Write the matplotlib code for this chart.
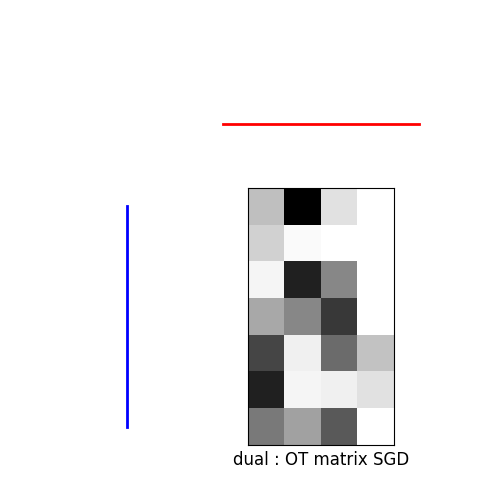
import numpy as np
import matplotlib
matplotlib.use("Agg")
import matplotlib.pyplot as plt

# source / target weights (uniform)
a = [1 / 7] * 7
b = [1 / 4] * 4

# coupling estimated by SGD (relative intensities)
G = np.array([
    [0.25, 1.00, 0.12, 0.00],
    [0.18, 0.02, 0.00, 0.00],
    [0.04, 0.87, 0.47, 0.00],
    [0.34, 0.47, 0.78, 0.00],
    [0.73, 0.06, 0.58, 0.24],
    [0.87, 0.04, 0.06, 0.12],
    [0.52, 0.37, 0.65, 0.00],
])
title = "dual : OT matrix SGD"

na, nb = G.shape
xa = np.arange(na)
xb = np.arange(nb)

fig = plt.figure(figsize=(5, 5), dpi=100)

# target distribution (top)
ax1 = fig.add_axes([0.426, 0.652, 0.432, 0.2])
ax1.plot(xb, b, color="r", lw=2)
ax1.margins(x=0.05)
ax1.axis("off")

# coupling matrix
ax3 = fig.add_axes([0.496, 0.11, 0.292, 0.514])
ax3.imshow(G, interpolation="nearest", cmap="gray_r", vmin=0, vmax=G.max(),
           aspect="auto")
ax3.set_xticks([])
ax3.set_yticks([])
ax3.set_xlabel(title, fontsize=12, labelpad=4)

# source distribution (left), sharing rows with the matrix
ax2 = fig.add_axes([0.15, 0.11, 0.208, 0.514])
ax2.plot(a, xa, color="b", lw=2)
ax2.set_ylim(ax3.get_ylim())
ax2.invert_xaxis()
ax2.axis("off")

fig.savefig("out.png", dpi=100)
